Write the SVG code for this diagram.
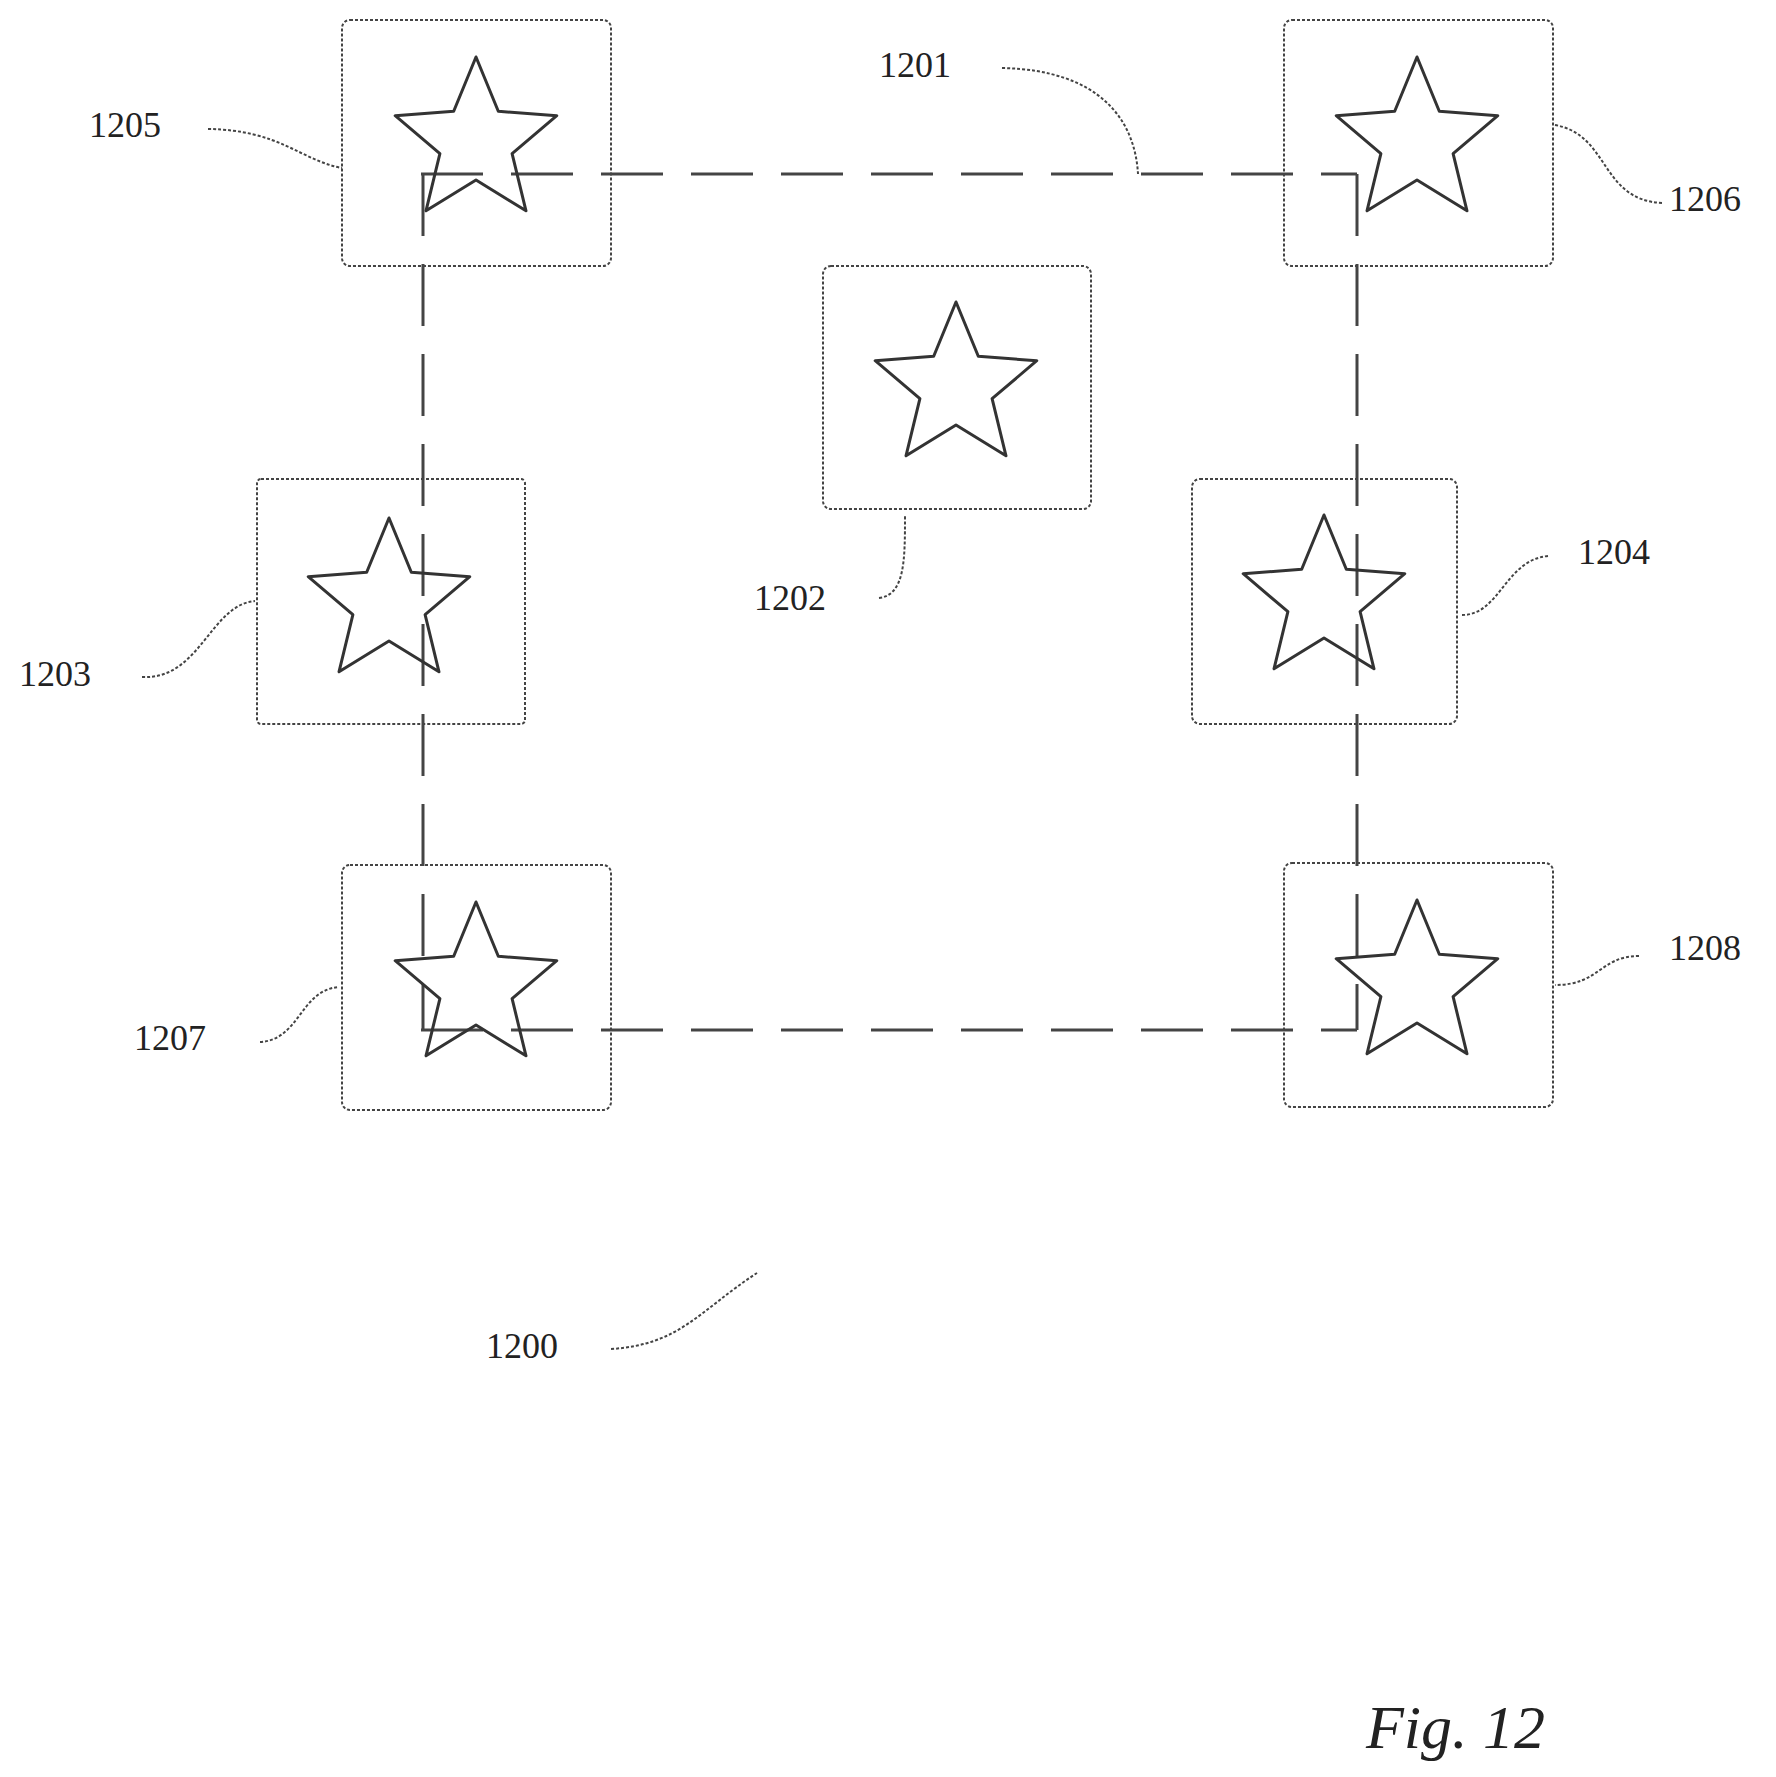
<svg xmlns="http://www.w3.org/2000/svg" xmlns:xlink="http://www.w3.org/1999/xlink" width="1776" height="1777" viewBox="0 0 1776 1777">
<style>
.box{fill:none;stroke:#444;stroke-width:2;stroke-dasharray:3 2}
.star{fill:none;stroke:#333;stroke-width:3;stroke-linejoin:round}
.dash{fill:none;stroke:#444;stroke-width:3;stroke-dasharray:62 28}
.lead{fill:none;stroke:#444;stroke-width:2;stroke-dasharray:3 2}
.lbl{font-family:"Liberation Serif",serif;font-size:36px;fill:#222}
</style>
<defs>
<path id="st" d="M0,-85 L22.3,-30.7 L80.8,-26.3 L36.1,11.7 L50,68.8 L0,38 L-50,68.8 L-36.1,11.7 L-80.8,-26.3 L-22.3,-30.7 Z"/>
</defs>
<rect width="1776" height="1777" fill="#fff"/>
<g id="connectors">
<path class="dash" d="M421,174 H1357 M421,1030 H1357 M423,174 V1030 M1357,174 V1030"/>
<path class="lead" d="M208,129 C280,130 300,160 342,168"/>
<path class="lead" d="M1002,68 C1100,70 1135,120 1138,174"/>
<path class="lead" d="M1555,125 C1610,135 1600,200 1662,203"/>
<path class="lead" d="M879,598 C905,595 905,560 905,515"/>
<path class="lead" d="M142,677 C200,680 210,605 255,601"/>
<path class="lead" d="M1548,556 C1505,560 1500,615 1462,615"/>
<path class="lead" d="M260,1042 C300,1040 300,990 339,987"/>
<path class="lead" d="M1639,956 C1600,956 1600,985 1555,985"/>
<path class="lead" d="M611,1349 C680,1345 700,1310 757,1273"/>
</g>
<g id="n1205"><rect class="box" x="342" y="20" width="269" height="246" rx="8"/><use href="#st" class="star" x="476" y="142"/></g>
<g id="n1206"><rect class="box" x="1284" y="20" width="269" height="246" rx="8"/><use href="#st" class="star" x="1417" y="142"/></g>
<g id="n1202"><rect class="box" x="823" y="266" width="268" height="243" rx="8"/><use href="#st" class="star" x="956" y="387"/></g>
<g id="n1203"><rect class="box" x="257" y="479" width="268" height="245" rx="4"/><use href="#st" class="star" x="389" y="603"/></g>
<g id="n1204"><rect class="box" x="1192" y="479" width="265" height="245" rx="8"/><use href="#st" class="star" x="1324" y="600"/></g>
<g id="n1207"><rect class="box" x="342" y="865" width="269" height="245" rx="8"/><use href="#st" class="star" x="476" y="987"/></g>
<g id="n1208"><rect class="box" x="1284" y="863" width="269" height="244" rx="8"/><use href="#st" class="star" x="1417" y="985"/></g>
<g id="labels">
<text class="lbl" x="89" y="137">1205</text>
<text class="lbl" x="879" y="77">1201</text>
<text class="lbl" x="1669" y="211">1206</text>
<text class="lbl" x="754" y="610">1202</text>
<text class="lbl" x="19" y="686">1203</text>
<text class="lbl" x="1578" y="564">1204</text>
<text class="lbl" x="134" y="1050">1207</text>
<text class="lbl" x="1669" y="960">1208</text>
<text class="lbl" x="486" y="1358">1200</text>
<text x="1366" y="1748" style="font-family:'Liberation Serif',serif;font-style:italic;font-size:62px;fill:#222">Fig. 12</text>
</g>
</svg>
